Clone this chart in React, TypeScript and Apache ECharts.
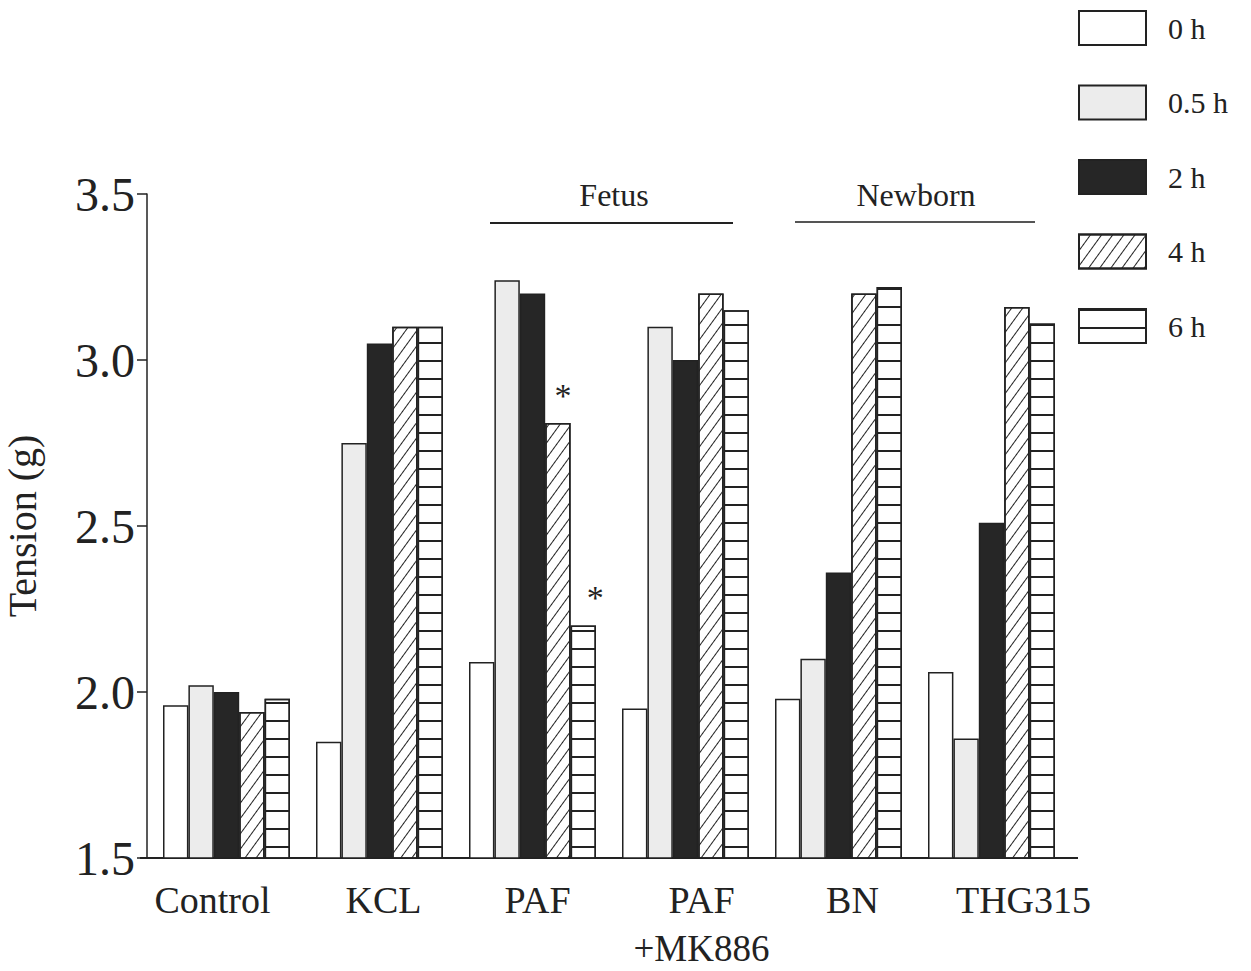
import React, { useEffect, useRef } from "react";
import * as echarts from "echarts";

const categories = ["Control", "KCL", "PAF", "PAF", "BN", "THG315"];
const categorySubLabels = ["", "", "", "+MK886", "", ""];
const seriesNames = ["0 h", "0.5 h", "2 h", "4 h", "6 h"];
const values0h = [1.96, 1.85, 2.09, 1.95, 1.98, 2.06];
const values05h = [2.02, 2.75, 3.24, 3.10, 2.10, 1.86];
const values2h = [2.00, 3.05, 3.20, 3.00, 2.36, 2.51];
const values4h = [1.94, 3.10, 2.81, 3.20, 3.20, 3.16];
const values6h = [1.98, 3.10, 2.20, 3.15, 3.22, 3.11];
const yTicks = [1.5, 2.0, 2.5, 3.0, 3.5];
// category index of PAF marked significant (*) in the 4 h and 6 h series
const significant4h = [2];
const significant6h = [2];

const FONT = "'Liberation Serif', 'DejaVu Serif', serif";
const INK = "#222";

export default function App() {
  const ref = useRef<HTMLDivElement>(null);
  useEffect(() => {
    if (!ref.current) return;
    const chart = echarts.init(ref.current, undefined, { renderer: "svg" });
    const labelShift = [-14, 4, 5, 16, 14, 32];
    const xData = categories.map((c, i) => {
      const s = labelShift[i];
      return {
        value: c,
        textStyle: { padding: s >= 0 ? [0, 0, 0, 2 * s] : [0, -2 * s, 0, 0] },
      };
    });
    const starLabel = (dx: number) => ({
      show: true,
      position: "top",
      formatter: "*",
      fontSize: 34,
      fontFamily: FONT,
      color: INK,
      offset: [dx, -6],
    });
    const mk = (vals: number[], sig: number[], dx: number) =>
      vals.map((v, i) => (sig.includes(i) ? { value: v, label: starLabel(dx) } : v));
    const base = {
      type: "bar",
      barGap: "0%",
      barCategoryGap: "17%",
    };
    const border = { borderColor: INK, borderWidth: 1.5 };
    const gridLeft = 150;
    const gridWidth = 918;
    const step = gridWidth / categories.length;
    const subLabelGraphics = categorySubLabels
      .map((t, i) =>
        t
          ? {
              type: "text",
              x: gridLeft + step * (i + 0.5) + labelShift[i],
              y: 948,
              style: { text: t, fontSize: 37, fontFamily: FONT, fill: INK, align: "center", verticalAlign: "middle" },
            }
          : null
      )
      .filter(Boolean);
    const option: any = {
      animation: false,
      backgroundColor: "#fff",
      grid: { left: gridLeft, width: gridWidth, top: 194, height: 664, outerBoundsMode: "none", containLabel: false },
      legend: {
        data: seriesNames,
        orient: "vertical",
        left: 1073,
        top: 5,
        itemWidth: 67,
        itemHeight: 34,
        itemGap: 38.5,
        icon: "rect",
        textStyle: { fontSize: 30, fontFamily: FONT, color: INK, padding: [0, 0, 0, 17] },
      },
      xAxis: {
        type: "category",
        data: xData,
        axisLine: { show: false },
        axisTick: { show: false },
        axisLabel: {
          fontSize: 38,
          fontFamily: FONT,
          color: INK,
          lineHeight: 55,
          margin: 14,
          interval: 0,
        },
      },
      yAxis: {
        type: "value",
        min: yTicks[0],
        max: yTicks[yTicks.length - 1],
        interval: 0.5,
        offset: 3,
        name: "Tension (g)",
        nameLocation: "middle",
        nameGap: 105,
        nameTextStyle: { fontSize: 40, fontFamily: FONT, color: INK },
        splitLine: { show: false },
        axisLine: { show: true, lineStyle: { color: INK, width: 1.5 } },
        axisTick: { show: true, length: 10, lineStyle: { color: INK, width: 1.5 } },
        axisLabel: {
          fontSize: 48,
          fontFamily: FONT,
          color: INK,
          margin: 12,
          formatter: (v: number) => v.toFixed(1),
        },
      },
      series: [
        { ...base, name: seriesNames[0], data: values0h, itemStyle: { color: "#fff", ...border } },
        { ...base, name: seriesNames[1], data: values05h, itemStyle: { color: "#ececec", ...border } },
        { ...base, name: seriesNames[2], data: values2h, itemStyle: { color: "#262626", ...border } },
        {
          ...base,
          name: seriesNames[3],
          data: mk(values4h, significant4h, 5),
          itemStyle: {
            color: "#fff",
            ...border,
            decal: {
              symbol: "rect",
              symbolSize: 1,
              color: INK,
              dashArrayX: [1, 0],
              dashArrayY: [1, 8],
              rotation: -Math.PI * 0.3,
            },
          },
        },
        {
          ...base,
          name: seriesNames[4],
          data: mk(values6h, significant6h, 12),
          itemStyle: {
            color: "#fff",
            ...border,
            decal: {
              symbol: "rect",
              symbolSize: 1,
              color: INK,
              dashArrayX: [1, 0],
              dashArrayY: [1.5, 15.2],
              rotation: 0,
            },
          },
        },
      ],
      graphic: [
        { type: "line", shape: { x1: 140, y1: 858, x2: 1078, y2: 858 }, style: { stroke: INK, lineWidth: 2 } },
        { type: "text", x: 614, y: 195, style: { text: "Fetus", fontSize: 32, fontFamily: FONT, fill: INK, align: "center", verticalAlign: "middle" } },
        { type: "line", shape: { x1: 490, y1: 223, x2: 733, y2: 223 }, style: { stroke: INK, lineWidth: 2 } },
        { type: "text", x: 916, y: 195, style: { text: "Newborn", fontSize: 32, fontFamily: FONT, fill: INK, align: "center", verticalAlign: "middle" } },
        { type: "line", shape: { x1: 795, y1: 222, x2: 1035, y2: 222 }, style: { stroke: "#555", lineWidth: 2 } },
        ...subLabelGraphics,
      ],
    };
    chart.setOption(option);
    return () => chart.dispose();
  }, []);
  return (
    <div
      ref={ref}
      style={{ position: "absolute", left: 0, top: 0, width: 1251, height: 971, background: "#fff" }}
    />
  );
}
